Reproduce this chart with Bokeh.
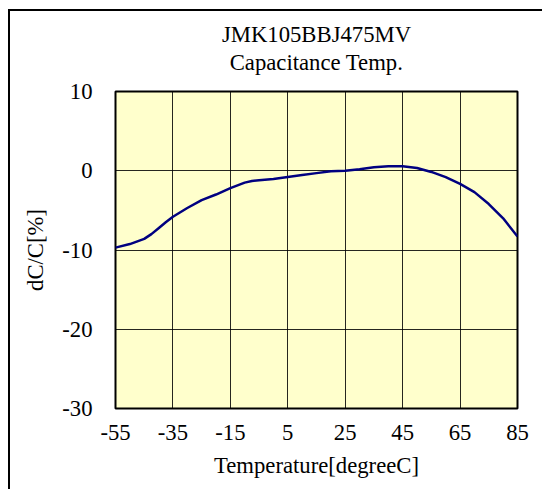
from bokeh.plotting import figure
from bokeh.models import FixedTicker, Title, ColumnDataSource
from bokeh.embed import file_html
from bokeh.resources import INLINE

temps = [-55, -50, -45, -42.5, -40, -37.5, -35, -30, -25, -20, -15, -10, -7.5,
         -5, 0, 5, 10, 15, 20, 25, 30, 35, 40, 45, 50, 55, 60, 65, 70, 75, 80, 85]
dcc = [-9.7, -9.25, -8.6, -8.0, -7.25, -6.5, -5.8, -4.7, -3.7, -3.0, -2.2, -1.5,
       -1.3, -1.2, -1.05, -0.8, -0.55, -0.3, -0.05, 0.0, 0.2, 0.45, 0.58, 0.58,
       0.35, -0.15, -0.8, -1.65, -2.7, -4.2, -6.0, -8.3]
x_ticks = [-55, -35, -15, 5, 25, 45, 65, 85]
y_ticks = [-30, -20, -10, 0, 10]
title_lines = ["JMK105BBJ475MV", "Capacitance Temp."]
x_title = "Temperature[degreeC]"
y_title = "dC/C[%]"

FONT = "Liberation Serif"
FS = "22.7px"

p = figure(width=534, height=480, x_range=(-55, 85), y_range=(-30, 10),
           output_backend="svg", toolbar_location=None, title=None,
           min_border_left=105, min_border_right=27,
           min_border_top=80, min_border_bottom=83)
p.styles = {"margin-left": "8px", "margin-top": "9px",
            "border-left": "2px solid black", "border-top": "2px solid black"}

p.background_fill_color = "#FFFFCC"
p.border_fill_color = "white"
p.outline_line_color = "black"
p.outline_line_width = 2

for ax in (p.xaxis[0], p.yaxis[0]):
    ax.axis_line_color = None
    ax.major_tick_line_color = None
    ax.minor_tick_line_color = None
    ax.major_label_text_font = FONT
    ax.major_label_text_font_size = FS
    ax.major_label_text_color = "black"
    ax.axis_label_text_font = FONT
    ax.axis_label_text_font_size = FS
    ax.axis_label_text_font_style = "normal"
    ax.axis_label_text_color = "black"

p.xaxis.ticker = FixedTicker(ticks=x_ticks)
p.yaxis.ticker = FixedTicker(ticks=y_ticks)
p.xaxis.major_label_overrides = {t: str(t) for t in x_ticks}
p.yaxis.major_label_overrides = {t: str(t) for t in y_ticks}
p.xaxis.major_label_standoff = 10
p.yaxis.major_label_standoff = 17
p.xaxis.axis_label = x_title
p.yaxis.axis_label = y_title
p.xaxis.axis_label_standoff = 10
p.yaxis.axis_label_standoff = 11

p.xgrid.ticker = FixedTicker(ticks=x_ticks)
p.ygrid.ticker = FixedTicker(ticks=y_ticks)
for g in (p.xgrid[0], p.ygrid[0]):
    g.grid_line_color = "black"
    g.grid_line_width = 1
    g.grid_line_alpha = 0.85

src = ColumnDataSource(dict(t=temps, v=dcc))
p.line("t", "v", source=src, line_color="#000080", line_width=2.5)

p.add_layout(Title(text=title_lines[1], align="center", text_font=FONT,
                   text_font_size=FS, text_font_style="normal",
                   text_color="black", standoff=34), "above")
p.add_layout(Title(text=title_lines[0], align="center", text_font=FONT,
                   text_font_size=FS, text_font_style="normal",
                   text_color="black", standoff=-32), "above")

open("out.html", "w").write(file_html(p, INLINE))
